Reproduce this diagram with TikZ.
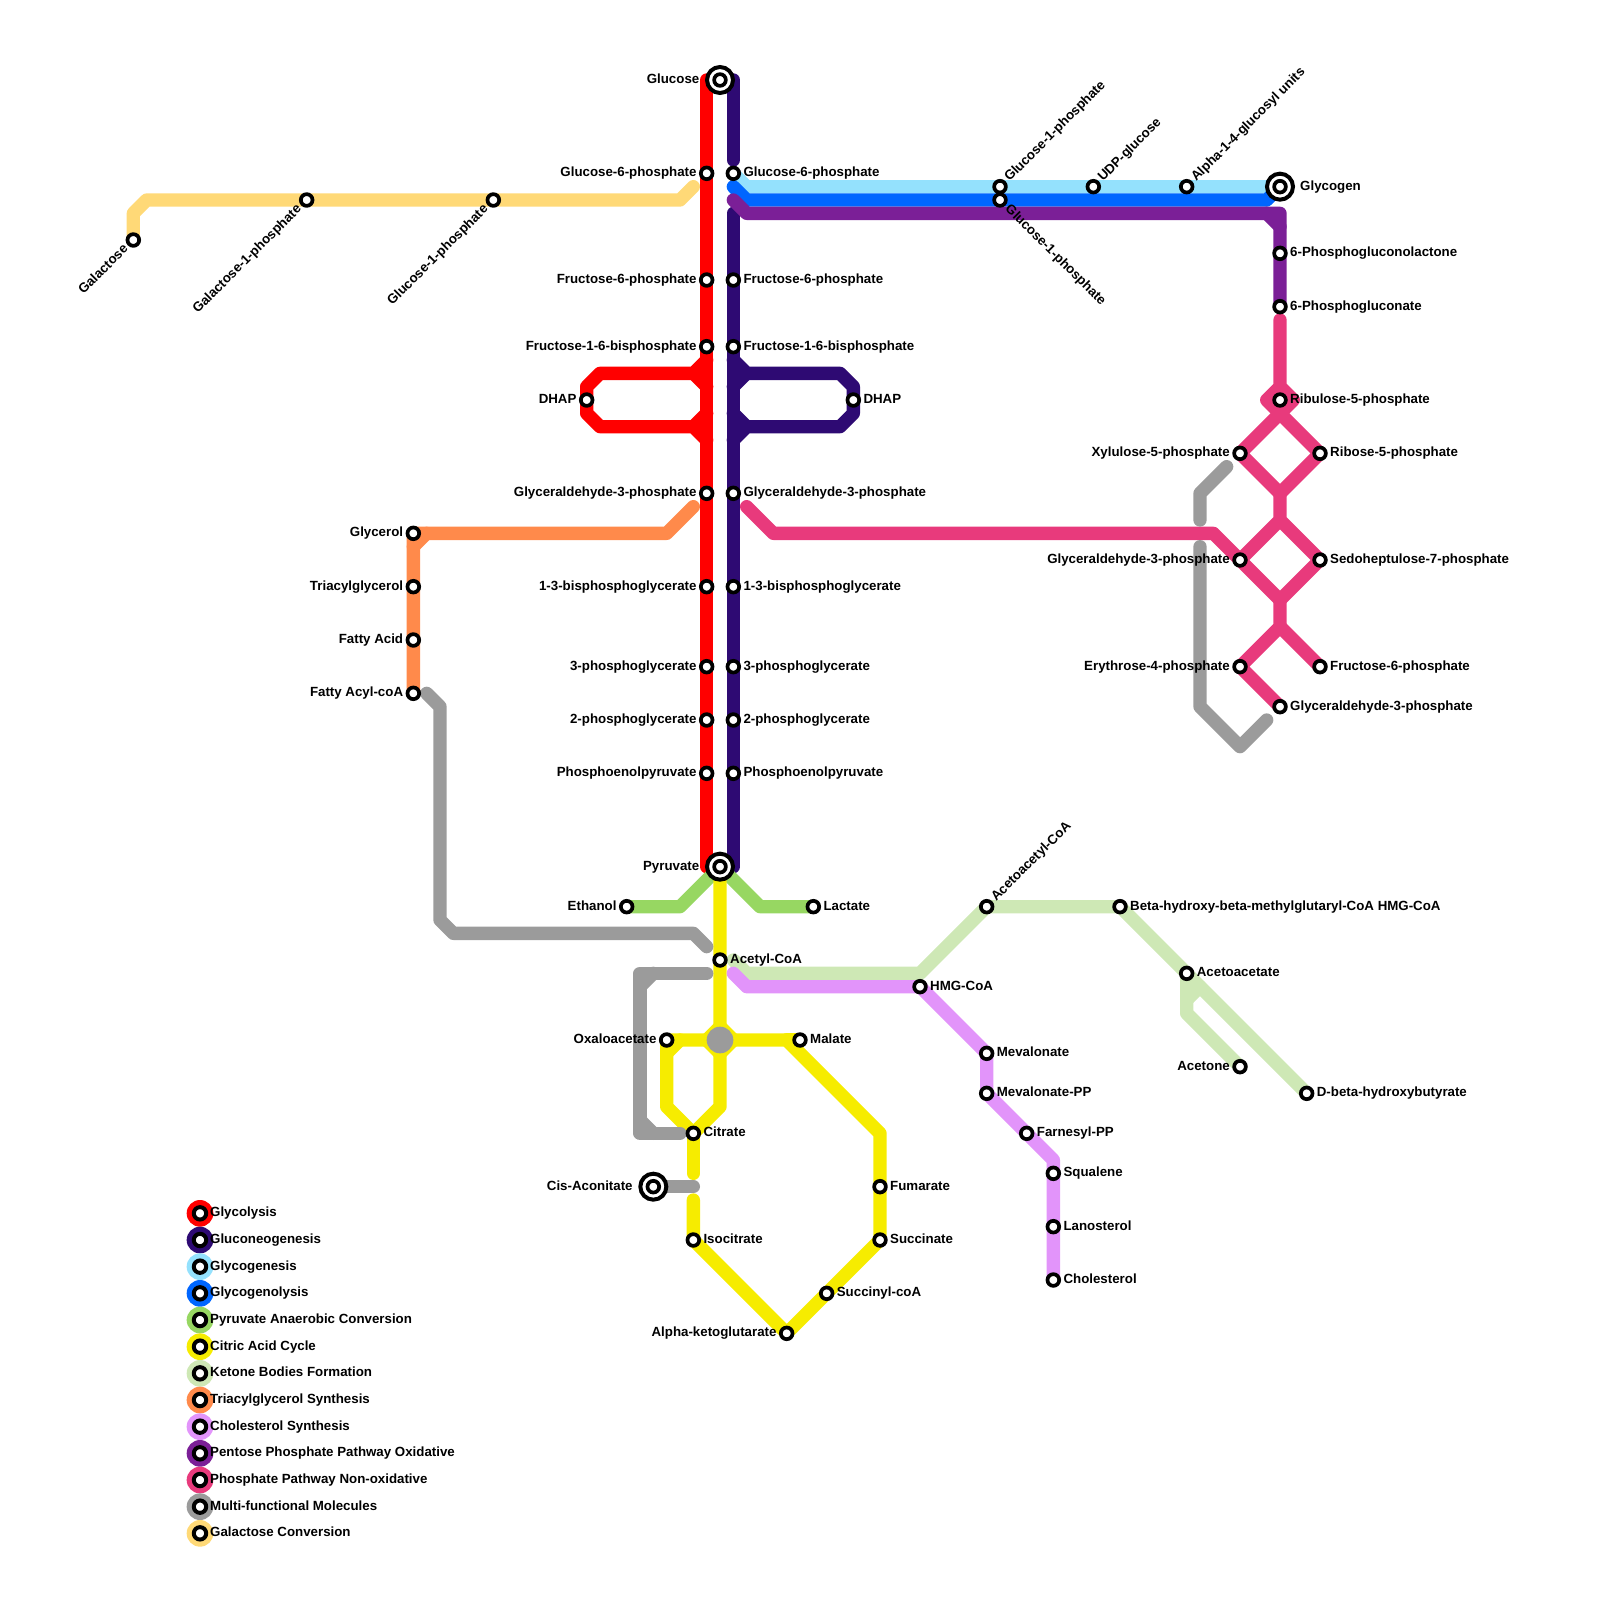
\documentclass[tikz,border=0pt]{standalone}
\usepackage{fontspec}
\setmainfont{Liberation Sans}
\usepackage{xcolor}
\definecolor{GlycoRed}{RGB}{255,0,0}
\definecolor{GluconeoNavy}{RGB}{46,10,115}
\definecolor{GenesisSky}{RGB}{148,225,253}
\definecolor{LysisBlue}{RGB}{0,102,255}
\definecolor{AnaeroGreen}{RGB}{151,215,98}
\definecolor{CitricYellow}{RGB}{246,236,0}
\definecolor{KetonePale}{RGB}{206,232,181}
\definecolor{TagOrange}{RGB}{255,138,75}
\definecolor{CholLilac}{RGB}{226,148,250}
\definecolor{OxiPurple}{RGB}{123,31,151}
\definecolor{NonOxiPink}{RGB}{232,58,124}
\definecolor{MultiGrey}{RGB}{155,155,155}
\definecolor{GalaSand}{RGB}{255,217,119}
\pgfdeclarelayer{lines}
\pgfsetlayers{lines,main}
\tikzset{
  metro/.style={line width=13.33pt, line cap=round, line join=round},
  stn/.style={circle, draw=black, fill=white, line width=3.7pt, minimum size=11.7pt, inner sep=0pt, outer sep=0pt},
  keystn/.style={circle, draw=black, fill=white, line width=4pt, minimum size=12.4pt, inner sep=0pt, outer sep=0pt},
  bigstn/.style={circle, draw=black, fill=white, line width=4pt, minimum size=26pt, inner sep=0pt, outer sep=0pt},
  lbl/.style={inner sep=0pt, font=\fontsize{13.3pt}{15pt}\selectfont\bfseries},
  lblE/.style={lbl, anchor=base west, xshift=10pt, yshift=-3.5pt},
  lblW/.style={lbl, anchor=base east, xshift=-10pt, yshift=-3.5pt},
  farE/.style={lbl, anchor=base west, xshift=20pt, yshift=-3.5pt},
  farW/.style={lbl, anchor=base east, xshift=-20.5pt, yshift=-3.5pt},
  lblNE/.style={lbl, anchor=base west, rotate=45, xshift=10pt, yshift=-3.5pt},
  lblSE/.style={lbl, anchor=base west, rotate=-45, xshift=10pt, yshift=-3.5pt},
  lblSW/.style={lbl, anchor=base east, rotate=45, xshift=-10pt, yshift=-3.5pt}
}

\begin{document}
\begin{tikzpicture}[x=13.3333pt, y=-13.3333pt]
  \useasboundingbox (0,0) rectangle (120,120);

  % --- Stations, label on the left ---
  \foreach \nm/\xx/\yy/\lbltext in {
    rGsix/53/13/Glucose-6-phosphate, rFsix/53/21/Fructose-6-phosphate,
    rFbis/53/26/Fructose-1-6-bisphosphate, rDhap/44/30/DHAP,
    rGap/53/37/Glyceraldehyde-3-phosphate, rBpg/53/44/1-3-bisphosphoglycerate,
    rPgt/53/50/3-phosphoglycerate, rPgd/53/54/2-phosphoglycerate,
    rPep/53/58/Phosphoenolpyruvate, glycerol/31/40/Glycerol,
    triacyl/31/44/Triacylglycerol, fattyAcid/31/48/Fatty Acid,
    fattyAcyl/31/52/Fatty Acyl-coA, ethanol/47/68/Ethanol,
    oxalo/50/78/Oxaloacetate, alphaKeto/59/100/Alpha-ketoglutarate,
    xylulose/93/34/Xylulose-5-phosphate, pGap/93/42/Glyceraldehyde-3-phosphate,
    erythrose/93/50/Erythrose-4-phosphate, acetone/93/80/Acetone} {
    \node[stn] (\nm) at (\xx,\yy) {};
    \node[lblW] (\nm-t) at (\xx,\yy) {\lbltext};
  }

  % --- Stations, label on the right ---
  \foreach \nm/\xx/\yy/\lbltext in {
    dGsix/55/13/Glucose-6-phosphate, dFsix/55/21/Fructose-6-phosphate,
    dFbis/55/26/Fructose-1-6-bisphosphate, dDhap/64/30/DHAP,
    dGap/55/37/Glyceraldehyde-3-phosphate, dBpg/55/44/1-3-bisphosphoglycerate,
    dPgt/55/50/3-phosphoglycerate, dPgd/55/54/2-phosphoglycerate,
    dPep/55/58/Phosphoenolpyruvate, lactate/61/68/Lactate,
    acetyl/54/72/Acetyl-CoA, malate/60/78/Malate, citrate/52/85/Citrate,
    isocitrate/52/93/Isocitrate, fumarate/66/89/Fumarate,
    succinate/66/93/Succinate, succinyl/62/97/Succinyl-coA,
    hmg/69/74/HMG-CoA, mevalonate/74/79/Mevalonate,
    mevalonatePP/74/82/Mevalonate-PP, farnesyl/77/85/Farnesyl-PP,
    squalene/79/88/Squalene, lanosterol/79/92/Lanosterol,
    cholesterol/79/96/Cholesterol, betaHmg/84/68/Beta-hydroxy-beta-methylglutaryl-CoA HMG-CoA,
    acetoacetate/89/73/Acetoacetate, dBeta/98/82/D-beta-hydroxybutyrate,
    pgl/96/19/6-Phosphogluconolactone, pgn/96/23/6-Phosphogluconate,
    ribulose/96/30/Ribulose-5-phosphate, ribose/99/34/Ribose-5-phosphate,
    sedo/99/42/Sedoheptulose-7-phosphate, pFsix/99/50/Fructose-6-phosphate,
    pGapEnd/96/53/Glyceraldehyde-3-phosphate} {
    \node[stn] (\nm) at (\xx,\yy) {};
    \node[lblE] (\nm-t) at (\xx,\yy) {\lbltext};
  }

  % --- Stations, slanted labels ---
  \foreach \nm/\xx/\yy/\lbltext in {
    gOneUp/75/14/Glucose-1-phosphate, udp/82/14/UDP-glucose,
    alphaOne/89/14/Alpha-1-4-glucosyl units, acetoacetyl/74/68/Acetoacetyl-CoA} {
    \node[stn] (\nm) at (\xx,\yy) {};
    \node[lblNE] (\nm-t) at (\xx,\yy) {\lbltext};
  }
  \node[stn] (gOneDn) at (75,15) {};
  \node[lblSE] (gOneDn-t) at (75,15) {Glucose-1-phosphate};
  \foreach \nm/\xx/\yy/\lbltext in {
    galactose/10/18/Galactose, galOne/23/15/Galactose-1-phosphate,
    galGlc/37/15/Glucose-1-phosphate} {
    \node[stn] (\nm) at (\xx,\yy) {};
    \node[lblSW] (\nm-t) at (\xx,\yy) {\lbltext};
  }

  % --- Big stations ---
  \foreach \nm/\xx/\yy/\lbltext/\sty in {
    glucose/54/6/Glucose/farW, pyruvate/54/65/Pyruvate/farW,
    cisAco/49/89/Cis-Aconitate/farW, glycogen/96/14/Glycogen/farE} {
    \node[bigstn] (\nm-o) at (\xx,\yy) {};
    \node[stn] (\nm) at (\xx,\yy) {};
    \node[\sty] (\nm-t) at (\xx,\yy) {\lbltext};
  }

  % --- Grey hub of the cycle ---
  \node[circle, fill=MultiGrey, minimum size=26.67pt, inner sep=0pt] (hub) at (54,78) {};

  % --- Legend ---
  \foreach \nm/\clr/\yy/\lbltext in {
    kRed/GlycoRed/91/Glycolysis, kNavy/GluconeoNavy/93/Gluconeogenesis,
    kSky/GenesisSky/95/Glycogenesis, kBlue/LysisBlue/97/Glycogenolysis,
    kGreen/AnaeroGreen/99/Pyruvate Anaerobic Conversion, kYellow/CitricYellow/101/Citric Acid Cycle,
    kPale/KetonePale/103/Ketone Bodies Formation, kOrange/TagOrange/105/Triacylglycerol Synthesis,
    kLilac/CholLilac/107/Cholesterol Synthesis, kPurple/OxiPurple/109/Pentose Phosphate Pathway Oxidative,
    kPink/NonOxiPink/111/Phosphate Pathway Non-oxidative, kGrey/MultiGrey/113/Multi-functional Molecules,
    kSand/GalaSand/115/Galactose Conversion} {
    \node[circle, fill=\clr, minimum size=26.67pt, inner sep=0pt] (\nm-o) at (15,\yy) {};
    \node[keystn] (\nm) at (15,\yy) {};
    \node[lblE] (\nm-t) at (15,\yy) {\lbltext};
  }

  \begin{pgfonlayer}{lines}
    % --- Glycolysis ---
    \draw[metro, GlycoRed] (53,6) -- (53,65);
    \draw[metro, GlycoRed] (53,27) -- (52,28) -- (45,28) -- (44,29) -- (44,31)
      -- (45,32) -- (52,32) -- (53,33);
    \draw[metro, GlycoRed] (52,28) -- (53,29) (52,32) -- (53,31);

    % --- Gluconeogenesis ---
    \draw[metro, GluconeoNavy] (55,6) -- (55,12);
    \draw[metro, GluconeoNavy] (55,16) -- (55,65);
    \draw[metro, GluconeoNavy] (55,27) -- (56,28) -- (63,28) -- (64,29) -- (64,31)
      -- (63,32) -- (56,32) -- (55,33);
    \draw[metro, GluconeoNavy] (56,28) -- (55,29) (56,32) -- (55,31);

    % --- Glycogenesis, glycogenolysis ---
    \draw[metro, GenesisSky] (dGsix.center) -- (56,14) -- (glycogen.center);
    \draw[metro, LysisBlue] (55,14) -- (56,15) -- (95,15) -- (glycogen.center);

    % --- Pyruvate anaerobic conversion ---
    \draw[metro, AnaeroGreen] (ethanol.center) -- (51,68) -- (pyruvate.center) -- (57,68) -- (lactate.center);

    % --- Citric acid cycle ---
    \draw[metro, CitricYellow] (pyruvate.center) -- (54,83) -- (citrate.center) -- (50,83) -- (oxalo.center)
      -- (59,78) -- (66,85) -- (fumarate.center) -- (succinate.center) -- (alphaKeto.center)
      -- (isocitrate.center) -- (52,90);
    \draw[metro, CitricYellow] (citrate.center) -- (52,88);
    \draw[metro, CitricYellow] (51,78) -- (50,79);
    \draw[metro, CitricYellow] (malate.center) -- (59,78);
    \draw[metro, CitricYellow] (53,78) -- (54,77) -- (55,78) -- (54,79) -- cycle;

    % --- Ketone bodies ---
    \draw[metro, KetonePale] (55,72) -- (56,73) -- (69,73) -- (acetoacetyl.center) -- (betaHmg.center)
      -- (dBeta.center);
    \draw[metro, KetonePale] (acetoacetate.center) -- (89,76) -- (acetone.center);
    \draw[metro, KetonePale] (90,74) -- (89,75);

    % --- Triacylglycerol ---
    \draw[metro, TagOrange] (fattyAcyl.center) -- (glycerol.center) -- (50,40) -- (52,38);
    \draw[metro, TagOrange] (31,41) -- (32,40);

    % --- Cholesterol ---
    \draw[metro, CholLilac] (55,73) -- (56,74) -- (hmg.center) -- (mevalonate.center) -- (mevalonatePP.center)
      -- (79,87) -- (cholesterol.center);

    % --- Pentose phosphate, oxidative ---
    \draw[metro, OxiPurple] (55,15) -- (56,16) -- (96,16) -- (pgn.center);
    \draw[metro, OxiPurple] (95,16) -- (96,17);

    % --- Pentose phosphate, non-oxidative ---
    \draw[metro, NonOxiPink] (96,24) -- (96,29) -- (95,30) -- (96,31) -- (97,30) -- (96,29);
    \draw[metro, NonOxiPink] (96,31) -- (xylulose.center) -- (96,37) -- (ribose.center) -- (96,31);
    \draw[metro, NonOxiPink] (96,37) -- (96,39) -- (pGap.center) -- (96,45) -- (sedo.center) -- (96,39);
    \draw[metro, NonOxiPink] (96,45) -- (96,47) -- (erythrose.center) -- (pGapEnd.center);
    \draw[metro, NonOxiPink] (96,47) -- (pFsix.center);
    \draw[metro, NonOxiPink] (56,38) -- (58,40) -- (91,40) -- (pGap.center);

    % --- Multi-functional molecules ---
    \draw[metro, MultiGrey] (32,52) -- (33,53) -- (33,69) -- (34,70) -- (52,70) -- (53,71);
    \draw[metro, MultiGrey] (53,73) -- (48,73) -- (48,85) -- (51,85);
    \draw[metro, MultiGrey] (49,73) -- (48,74) (48,84) -- (49,85);
    \draw[metro, MultiGrey] (cisAco.center) -- (52,89);
    \draw[metro, MultiGrey] (92,35) -- (90,37) -- (90,39);
    \draw[metro, MultiGrey] (90,41) -- (90,53) -- (93,56) -- (95,54);

    % --- Galactose ---
    \draw[metro, GalaSand] (galactose.center) -- (10,16) -- (11,15) -- (51,15) -- (52,14);
  \end{pgfonlayer}
\end{tikzpicture}
\end{document}
